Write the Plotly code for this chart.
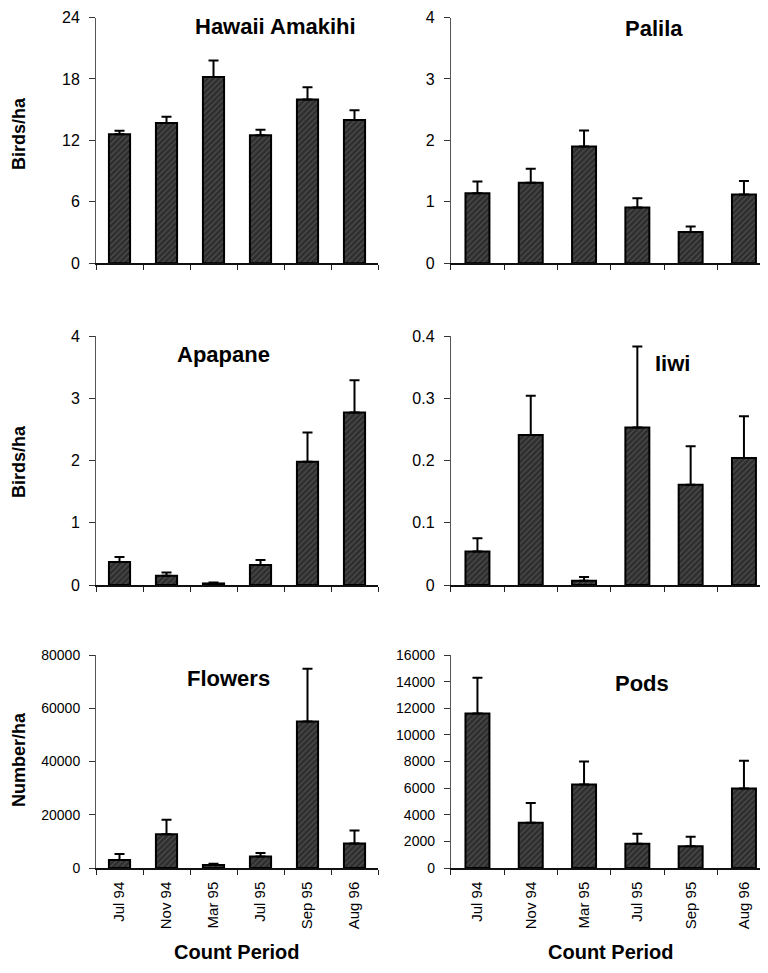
import plotly.graph_objects as go
from plotly.subplots import make_subplots

periods = ["Jul 94", "Nov 94", "Mar 95", "Jul 95", "Sep 95", "Aug 96"]

amakihi = [12.6, 13.7, 18.2, 12.5, 16.0, 14.0]
amakihi_se = [0.35, 0.6, 1.6, 0.55, 1.2, 0.95]
palila = [1.14, 1.31, 1.90, 0.91, 0.51, 1.12]
palila_se = [0.19, 0.23, 0.26, 0.15, 0.09, 0.22]
apapane = [0.37, 0.15, 0.025, 0.32, 1.98, 2.77]
apapane_se = [0.08, 0.05, 0.015, 0.08, 0.47, 0.52]
iiwi = [0.054, 0.241, 0.007, 0.253, 0.161, 0.204]
iiwi_se = [0.021, 0.063, 0.006, 0.13, 0.062, 0.067]
flowers = [3000, 12700, 1100, 4300, 55000, 9200]
flowers_se = [2300, 5400, 500, 1300, 19800, 4900]
pods = [11600, 3400, 6270, 1830, 1630, 5970]
pods_se = [2700, 1480, 1730, 750, 720, 2080]

panels = [
    ("Hawaii Amakihi", amakihi, amakihi_se, [0, 6, 12, 18, 24], 1, 1),
    ("Palila", palila, palila_se, [0, 1, 2, 3, 4], 1, 2),
    ("Apapane", apapane, apapane_se, [0, 1, 2, 3, 4], 2, 1),
    ("Iiwi", iiwi, iiwi_se, [0, 0.1, 0.2, 0.3, 0.4], 2, 2),
    ("Flowers", flowers, flowers_se, [0, 20000, 40000, 60000, 80000], 3, 1),
    ("Pods", pods, pods_se, [0, 2000, 4000, 6000, 8000, 10000, 12000, 14000, 16000], 3, 2),
]

# page has an 8px body margin; figure sized so the page is exactly 768x973
OFF = 8
W, H = 768 - 2 * OFF, 973 - 2 * OFF
FONT = "Liberation Sans, Arial, sans-serif"


def px(x):
    return (x - OFF) / W


def py(y):
    return 1 - (y - OFF) / H


fig = make_subplots(rows=3, cols=2)

xdom = {1: [px(96), px(378)], 2: [px(450.8), 1.0]}
xrng = {1: [-0.5, 5.5], 2: [-0.5, -0.5 + (W - (450.8 - OFF)) / 53.3]}
ydom = {1: [py(263.3), py(17.5)],
        2: [py(585), py(336)],
        3: [py(868), py(655)]}

for name, vals, se, ticks, r, c in panels:
    fig.add_trace(go.Bar(
        x=periods, y=vals, width=0.45,
        marker=dict(color="#333333",
                    line=dict(color="#000000", width=2),
                    pattern=dict(shape="/", fgcolor="#7a7a7a", bgcolor="#2e2e2e",
                                 size=4, solidity=0.25)),
        error_y=dict(type="data", array=se, arrayminus=[0] * len(se), symmetric=False,
                     color="#000000", thickness=2, width=5),
        showlegend=False,
    ), row=r, col=c)
    fig.update_xaxes(row=r, col=c, domain=xdom[c], range=xrng[c], type="category",
                     tickson="boundaries", ticks="outside", ticklen=5, tickcolor="#222",
                     showline=True, linecolor="#111", linewidth=1.5,
                     showgrid=False, zeroline=False, automargin=False,
                     showticklabels=(r == 3), tickangle=-90, ticklabelstandoff=6,
                     tickfont=dict(family=FONT, size=15, color="#000"))
    fmt = "d" if max(ticks) >= 1000 else None
    fig.update_yaxes(row=r, col=c, domain=ydom[r], range=[0, ticks[-1]],
                     tickvals=ticks, tickformat=fmt,
                     ticks="outside", ticklen=6, tickcolor="#333",
                     showline=True, linecolor="#555", linewidth=1,
                     showgrid=False, zeroline=False, ticklabelstandoff=6, automargin=False,
                     ticklabeloverflow="allow",
                     tickfont=dict(family=FONT, size=(14 if r == 3 else 16), color="#000"))

titles = [
    ("Hawaii Amakihi", 275, 27),
    ("Palila", 654, 28),
    ("Apapane", 223, 355),
    ("Iiwi", 672, 363),
    ("Flowers", 228, 678),
    ("Pods", 642, 683),
]
for t, tx, ty in titles:
    fig.add_annotation(text="<b>%s</b>" % t, x=px(tx), y=py(ty), xref="paper", yref="paper",
                       showarrow=False, xanchor="center", yanchor="middle",
                       font=dict(family=FONT, size=22, color="#000"))

ytitles = [("Birds/ha", 134), ("Birds/ha", 462), ("Number/ha", 760)]
for t, ty in ytitles:
    fig.add_annotation(text="<b>%s</b>" % t, x=px(19), y=py(ty), xref="paper", yref="paper",
                       showarrow=False, textangle=-90, xanchor="center", yanchor="middle",
                       font=dict(family=FONT, size=18, color="#000"))

for tx in (237, 611):
    fig.add_annotation(text="<b>Count Period</b>", x=px(tx), y=py(952), xref="paper", yref="paper",
                       showarrow=False, xanchor="center", yanchor="middle",
                       font=dict(family=FONT, size=20, color="#000"))

fig.update_layout(width=W, height=H, margin=dict(l=0, r=0, t=0, b=0, autoexpand=False),
                  plot_bgcolor="white", paper_bgcolor="white", bargap=0.55)

fig.write_html("out.html")
